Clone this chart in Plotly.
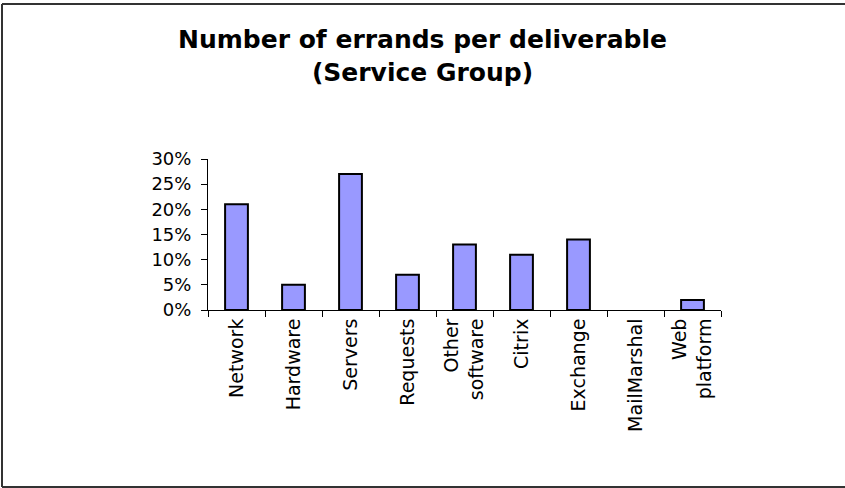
import plotly.graph_objects as go

categories = ["Network", "Hardware", "Servers", "Requests", "Other<br>software",
              "Citrix", "Exchange", "MailMarshal", "Web<br>platform"]
shares = [0.21, 0.05, 0.27, 0.07, 0.13, 0.11, 0.14, 0.0, 0.02]
y_ticks = [0, 0.05, 0.10, 0.15, 0.20, 0.25, 0.30]
y_tick_labels = ["0%", "5%", "10%", "15%", "20%", "25%", "30%"]

W, H = 845, 488
L, R, T, B = 208, 721, 159, 310  # plot area in pixels

fig = go.Figure()
fig.add_trace(go.Bar(
    x=categories, y=shares,
    marker=dict(color="#9999FF",
                line=dict(color="black", width=[0 if v == 0 else 2 for v in shares])),
))

def px_to_paper_x(px):
    return (px - L) / (R - L)

def px_to_paper_y(py):
    return (B - py) / (B - T)

border = dict(color="#333333", width=2)
x_left, x_right = px_to_paper_x(2), px_to_paper_x(880)
y_top, y_bot = px_to_paper_y(4), px_to_paper_y(487)
fig.add_shape(type="line", xref="paper", yref="paper", x0=x_left, x1=x_left,
              y0=y_bot, y1=y_top, line=border, layer="below")
fig.add_shape(type="line", xref="paper", yref="paper", x0=x_left, x1=x_right,
              y0=y_top, y1=y_top, line=border, layer="below")
fig.add_shape(type="line", xref="paper", yref="paper", x0=x_left, x1=x_right,
              y0=y_bot, y1=y_bot, line=border, layer="below")

fig.update_layout(
    width=W, height=H,
    margin=dict(l=L, r=W - R, t=T, b=H - B, autoexpand=False),
    paper_bgcolor="white", plot_bgcolor="white",
    font=dict(family="DejaVu Sans", color="black"),
    showlegend=False,
    bargap=0.6,
    title=dict(text="<b>Number of errands per deliverable<br>(Service Group)</b>",
               font=dict(family="DejaVu Sans", size=25, color="black"),
               x=0.5, xref="container", xanchor="center",
               y=1 - 48 / H, yref="container", yanchor="top"),
)
fig.update_xaxes(
    showline=True, linecolor="black", linewidth=1,
    ticks="outside", tickson="boundaries", ticklen=6, tickcolor="black",
    tickangle=-90, tickfont=dict(size=19, family="DejaVu Sans", color="black"),
    showgrid=False, fixedrange=True,
)
fig.update_yaxes(
    range=[0, 0.3], tickvals=y_ticks, ticktext=y_tick_labels,
    showline=True, linecolor="black", linewidth=1,
    ticks="outside", ticklen=6, tickcolor="black",
    tickfont=dict(size=18, family="DejaVu Sans", color="black"),
    ticklabelstandoff=6,
    showgrid=False, zeroline=False, fixedrange=True,
)

fig.write_html("out.html")
